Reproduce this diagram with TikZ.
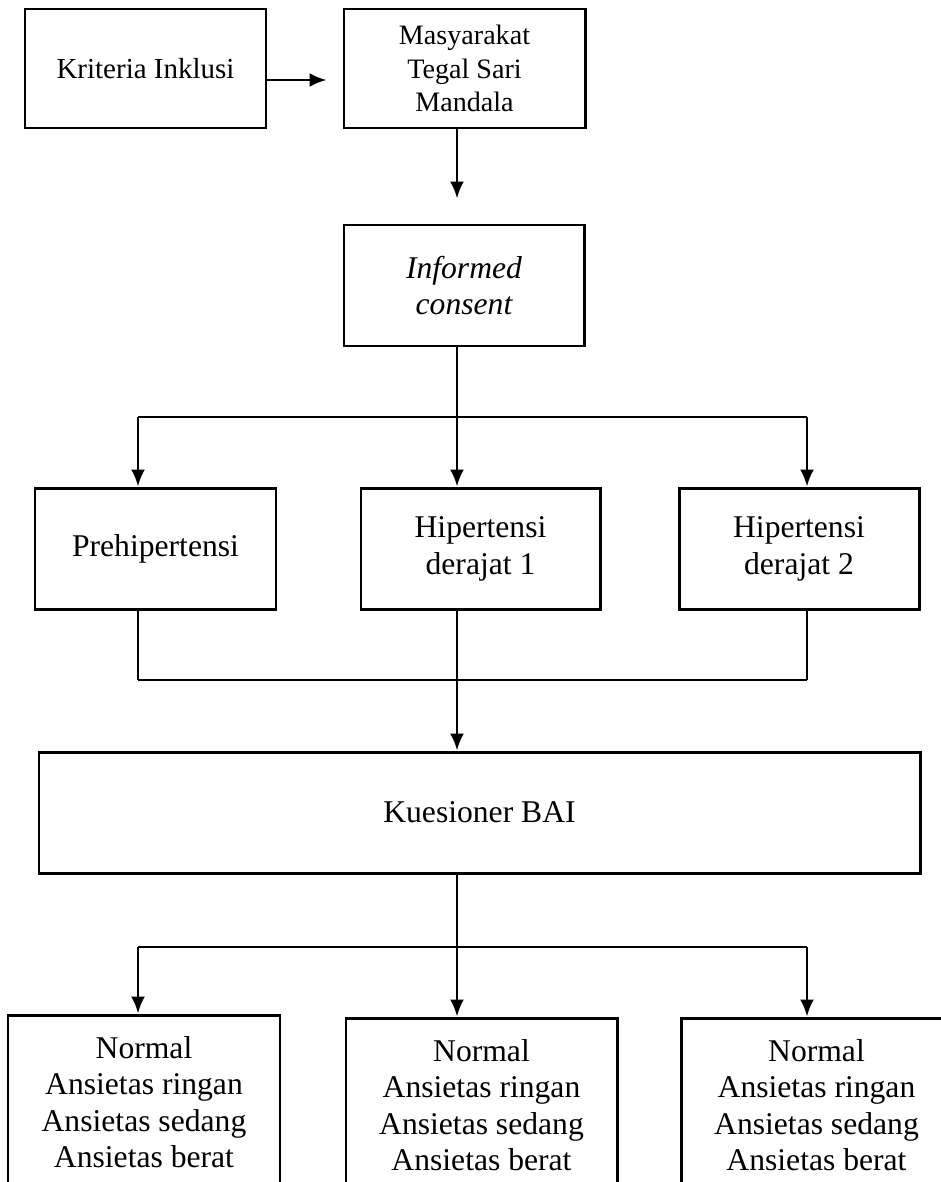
\documentclass[tikz,border=0pt]{standalone}
\usepackage{fontspec}
\setmainfont{Liberation Serif}
\usetikzlibrary{arrows.meta}

\begin{document}
\begin{tikzpicture}[>={Latex[length=3.4mm,width=2.8mm]},
  box/.style={draw, line width=1.7pt, align=center, inner sep=0pt,
    font=\fontsize{18}{21}\selectfont},
  link/.style={line width=0.7pt},
  arr/.style={->, line width=1.5pt}]

\useasboundingbox (0,0) rectangle (18.82,-23.64);

% columns and split points
\coordinate (colA) at (2.76,0);
\coordinate (colB) at (9.14,0);
\coordinate (colC) at (16.14,0);
\coordinate (split1) at (9.14,-8.34);
\coordinate (join) at (9.14,-13.6);
\coordinate (split2) at (9.14,-18.94);

% Top row
\node[box, minimum width=4.82cm, minimum height=2.38cm,
  font=\fontsize{16.5}{19}\selectfont] (krit) at (2.91,-1.37) {Kriteria Inklusi};
\node[box, minimum width=4.82cm, minimum height=2.38cm,
  font=\fontsize{16}{19.2}\selectfont] (masy) at (9.29,-1.37) {Masyarakat\\Tegal Sari\\Mandala};
\draw[arr, shorten >=0.32cm] ([yshift=-0.23cm]krit.east) -- ([yshift=-0.23cm]masy.west);

% Informed consent
\node[box, minimum width=4.8cm, minimum height=2.42cm,
  font=\itshape\fontsize{18}{21}\selectfont] (inf) at (9.28,-5.71) {Informed\\consent};
\draw[arr, shorten >=0.5cm] (masy.south -| colB) -- (inf.north -| colB);

% Groups
\node[box, minimum width=4.82cm, minimum height=2.42cm] (pre) at (3.11,-10.97) {Prehipertensi};
\node[box, minimum width=4.78cm, minimum height=2.42cm] (hip1) at (9.61,-10.97) {Hipertensi\\derajat 1};
\node[box, minimum width=4.8cm, minimum height=2.42cm] (hip2) at (15.98,-10.97) {Hipertensi\\derajat 2};

\draw[link] (inf.south -| colB) -- (split1);
\draw[link] (split1 -| colA) -- (split1 -| colC);
\foreach \n/\c in {pre/colA, hip1/colB, hip2/colC}
  \draw[arr] (split1 -| \c) -- (\n.north -| \c);
\foreach \n/\c in {pre/colA, hip1/colB, hip2/colC}
  \draw[link] (\n.south -| \c) -- (join -| \c);
\draw[link] (join -| colA) -- (join -| colC);

% Questionnaire
\node[box, minimum width=17.62cm, minimum height=2.42cm] (kues) at (9.59,-16.25) {Kuesioner BAI};
\draw[arr] (join) -- (kues.north -| colB);

% Outcomes
\node[box, minimum width=5.44cm, minimum height=3.48cm, font=\fontsize{18}{20.7}\selectfont]
  (out1) at (2.88,-22.04) {Normal\\Ansietas ringan\\Ansietas sedang\\Ansietas berat};
\node[box, minimum width=5.42cm, minimum height=3.48cm, font=\fontsize{18}{20.7}\selectfont]
  (out2) at (9.63,-22.1) {Normal\\Ansietas ringan\\Ansietas sedang\\Ansietas berat};
\node[box, minimum width=5.42cm, minimum height=3.48cm, font=\fontsize{18}{20.7}\selectfont]
  (out3) at (16.33,-22.1) {Normal\\Ansietas ringan\\Ansietas sedang\\Ansietas berat};

\draw[link] (kues.south -| colB) -- (split2);
\draw[link] (split2 -| colA) -- (split2 -| colC);
\foreach \n/\c in {out1/colA, out2/colB, out3/colC}
  \draw[arr] (split2 -| \c) -- (\n.north -| \c);

\end{tikzpicture}
\end{document}
